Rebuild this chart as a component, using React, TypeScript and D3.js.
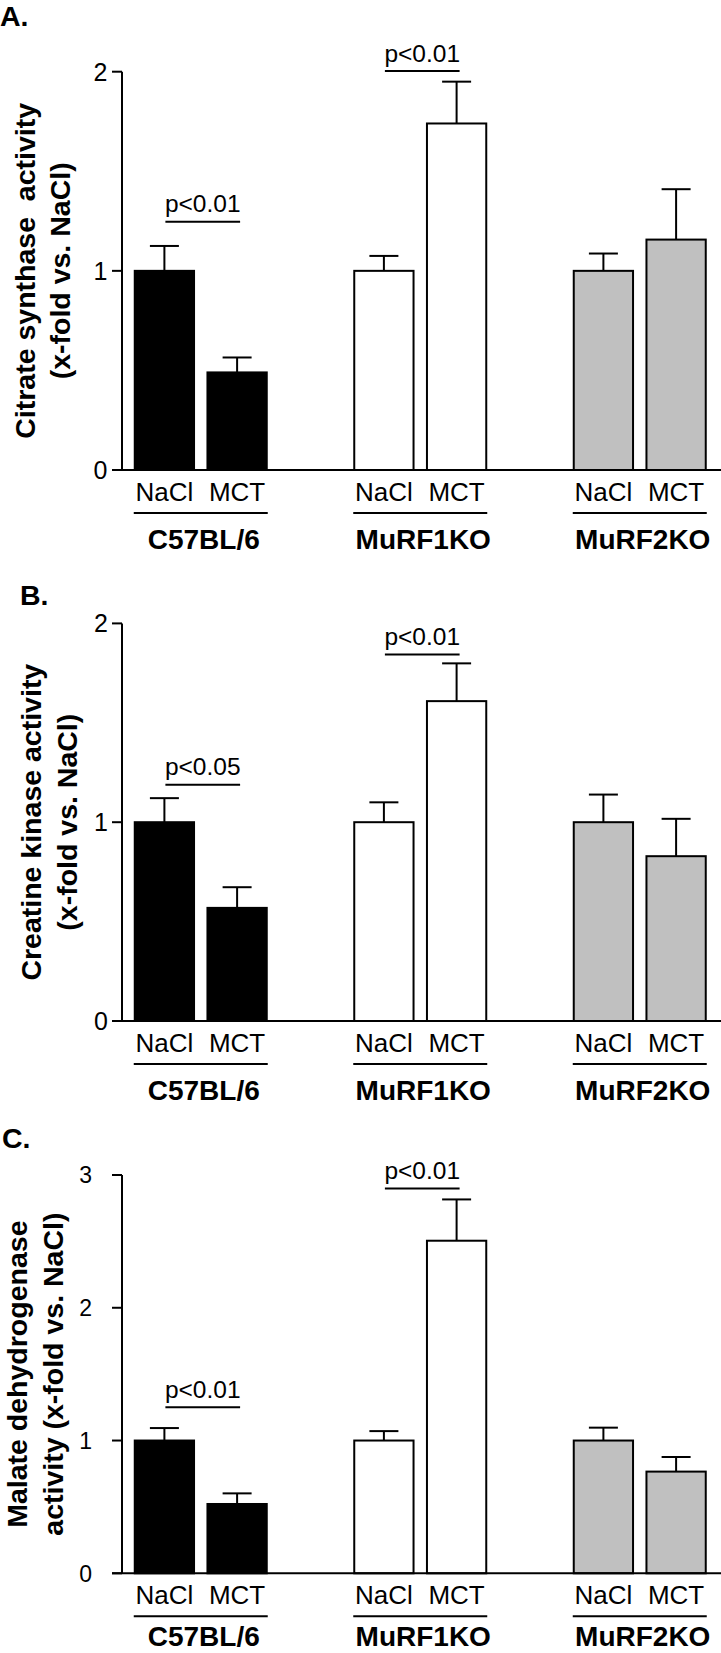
import React from "react";
import * as d3 from "d3";

const groups = ["C57BL/6", "MuRF1KO", "MuRF2KO"];
const treatments = ["NaCl", "MCT"];

// order: C57 NaCl, C57 MCT, MuRF1 NaCl, MuRF1 MCT, MuRF2 NaCl, MuRF2 MCT
const citrateMean = [1.0, 0.49, 1.0, 1.74, 1.0, 1.157];
const citrateSem = [0.125, 0.075, 0.075, 0.21, 0.087, 0.253];
const creatineMean = [1.0, 0.569, 1.0, 1.609, 1.0, 0.829];
const creatineSem = [0.121, 0.104, 0.1, 0.19, 0.139, 0.188];
const malateMean = [1.0, 0.522, 1.0, 2.505, 1.0, 0.766];
const malateSem = [0.094, 0.08, 0.071, 0.311, 0.097, 0.11];

const citrateTicks = [0, 1, 2];
const creatineTicks = [0, 1, 2];
const malateTicks = [0, 1, 2, 3];

const citrateSig = [
  { group: "C57BL/6", label: "p<0.01", level: 1.246 },
  { group: "MuRF1KO", label: "p<0.01", level: 2.003 },
];
const creatineSig = [
  { group: "C57BL/6", label: "p<0.05", level: 1.189 },
  { group: "MuRF1KO", label: "p<0.01", level: 1.844 },
];
const malateSig = [
  { group: "C57BL/6", label: "p<0.01", level: 1.25 },
  { group: "MuRF1KO", label: "p<0.01", level: 2.898 },
];

const groupFill = ["#000000", "#ffffff", "#c0c0c0"];

const W = 721;
const H = 1653;
const FONT = "'Liberation Sans', Arial, Helvetica, sans-serif";
const AXIS_X = 122;

const xGroup = d3.scaleBand<string>().domain(groups).range([91, 749.5]);
const xSub = d3
  .scaleBand<string>()
  .domain(treatments)
  .range([42.75, 176.75])
  .paddingInner(0.157);

type Sig = { group: string; label: string; level: number };

const panels = [
  {
    letter: "A.",
    letterX: 0,
    letterY: 26,
    top: 71.7,
    bottom: 470,
    ticks: citrateTicks,
    means: citrateMean,
    sems: citrateSem,
    sig: citrateSig,
    titles: ["Citrate synthase  activity", "(x-fold vs. NaCl)"],
    titleX: [35, 70],
    tickLabelX: 107.5,
    tickFont: 25,
    groupDy: 79,
  },
  {
    letter: "B.",
    letterX: 20,
    letterY: 605,
    top: 623.4,
    bottom: 1021,
    ticks: creatineTicks,
    means: creatineMean,
    sems: creatineSem,
    sig: creatineSig,
    titles: ["Creatine kinase activity", "(x-fold vs. NaCl)"],
    titleX: [41, 77],
    tickLabelX: 108,
    tickFont: 25,
    groupDy: 79,
  },
  {
    letter: "C.",
    letterX: 2,
    letterY: 1148,
    top: 1175,
    bottom: 1573.3,
    ticks: malateTicks,
    means: malateMean,
    sems: malateSem,
    sig: malateSig,
    titles: ["Malate dehydrogenase", "activity (x-fold vs. NaCl)"],
    titleX: [27, 63],
    tickLabelX: 92,
    tickFont: 23,
    groupDy: 73,
  },
];

function Panel({ p }: { p: (typeof panels)[number] }) {
  const yMax = d3.max(p.ticks) as number;
  const y = d3.scaleLinear().domain([0, yMax]).range([p.bottom, p.top]);
  const y0 = y(0);
  const bw = xSub.bandwidth();
  const midY = (p.top + p.bottom) / 2;

  const center = (g: string, t: string) =>
    (xGroup(g) as number) + (xSub(t) as number) + bw / 2;

  return (
    <g>
      <text
        x={p.letterX}
        y={p.letterY}
        fontFamily={FONT}
        fontWeight="bold"
        fontSize={28.5}
      >
        {p.letter}
      </text>

      {p.titles.map((t, i) => (
        <text
          key={i}
          transform={`translate(${p.titleX[i]},${midY}) rotate(-90)`}
          textAnchor="middle"
          fontFamily={FONT}
          fontWeight="bold"
          fontSize={28.5}
          style={{ whiteSpace: "pre" }}
        >
          {t}
        </text>
      ))}

      {/* bars */}
      {groups.map((g, gi) =>
        treatments.map((t, ti) => {
          const idx = gi * 2 + ti;
          const m = p.means[idx];
          const s = p.sems[idx];
          const x = (xGroup(g) as number) + (xSub(t) as number);
          const cx = x + bw / 2;
          return (
            <g key={g + t}>
              <line
                x1={cx}
                x2={cx}
                y1={y(m)}
                y2={y(m + s)}
                stroke="#000"
                strokeWidth={2}
              />
              <line
                x1={cx - 14.5}
                x2={cx + 14.5}
                y1={y(m + s)}
                y2={y(m + s)}
                stroke="#000"
                strokeWidth={2}
              />
              <rect
                x={x + 1}
                y={y(m)}
                width={bw - 2}
                height={y0 - y(m)}
                fill={groupFill[gi]}
                stroke="#000"
                strokeWidth={2}
              />
            </g>
          );
        })
      )}

      {/* axes */}
      <line x1={AXIS_X} x2={AXIS_X} y1={y(yMax)} y2={y0} stroke="#000" strokeWidth={2} />
      <line x1={AXIS_X - 10} x2={W} y1={y0} y2={y0} stroke="#000" strokeWidth={2} />
      {p.ticks.map((v) => (
        <g key={v}>
          <line x1={AXIS_X - 10} x2={AXIS_X} y1={y(v)} y2={y(v)} stroke="#000" strokeWidth={2} />
          <text
            x={p.tickLabelX}
            y={y(v)}
            dy="0.36em"
            textAnchor="end"
            fontFamily={FONT}
            fontSize={p.tickFont}
          >
            {v}
          </text>
        </g>
      ))}

      {/* significance */}
      {(p.sig as Sig[]).map((s, i) => {
        const x1 = center(s.group, "NaCl") + 1;
        const x2 = center(s.group, "MCT") + 3;
        const ly = y(s.level);
        return (
          <g key={i}>
            <line x1={x1} x2={x2} y1={ly} y2={ly} stroke="#000" strokeWidth={2} />
            <text
              x={(x1 + x2) / 2}
              y={ly - 9.5}
              textAnchor="middle"
              fontFamily={FONT}
              fontSize={24.5}
            >
              {s.label}
            </text>
          </g>
        );
      })}

      {/* category labels */}
      {groups.map((g) => {
        const left = (xGroup(g) as number) + (xSub("NaCl") as number);
        const right = (xGroup(g) as number) + (xSub("MCT") as number) + bw;
        const gc = (xGroup(g) as number) + xGroup.bandwidth() / 2;
        return (
          <g key={g}>
            {treatments.map((t) => (
              <text
                key={t}
                x={center(g, t)}
                y={y0 + 31}
                textAnchor="middle"
                fontFamily={FONT}
                fontSize={26}
              >
                {t}
              </text>
            ))}
            <line x1={left} x2={right} y1={y0 + 43} y2={y0 + 43} stroke="#000" strokeWidth={2} />
            <text
              x={gc + 3}
              y={y0 + p.groupDy}
              textAnchor="middle"
              fontFamily={FONT}
              fontWeight="bold"
              fontSize={28}
            >
              {g}
            </text>
          </g>
        );
      })}
    </g>
  );
}

export default function App() {
  return (
    <svg
      width={W}
      height={H}
      viewBox={`0 0 ${W} ${H}`}
      style={{ position: "absolute", left: 0, top: 0, background: "#fff" }}
    >
      <rect x={0} y={0} width={W} height={H} fill="#fff" />
      {panels.map((p) => (
        <Panel key={p.letter} p={p} />
      ))}
    </svg>
  );
}
